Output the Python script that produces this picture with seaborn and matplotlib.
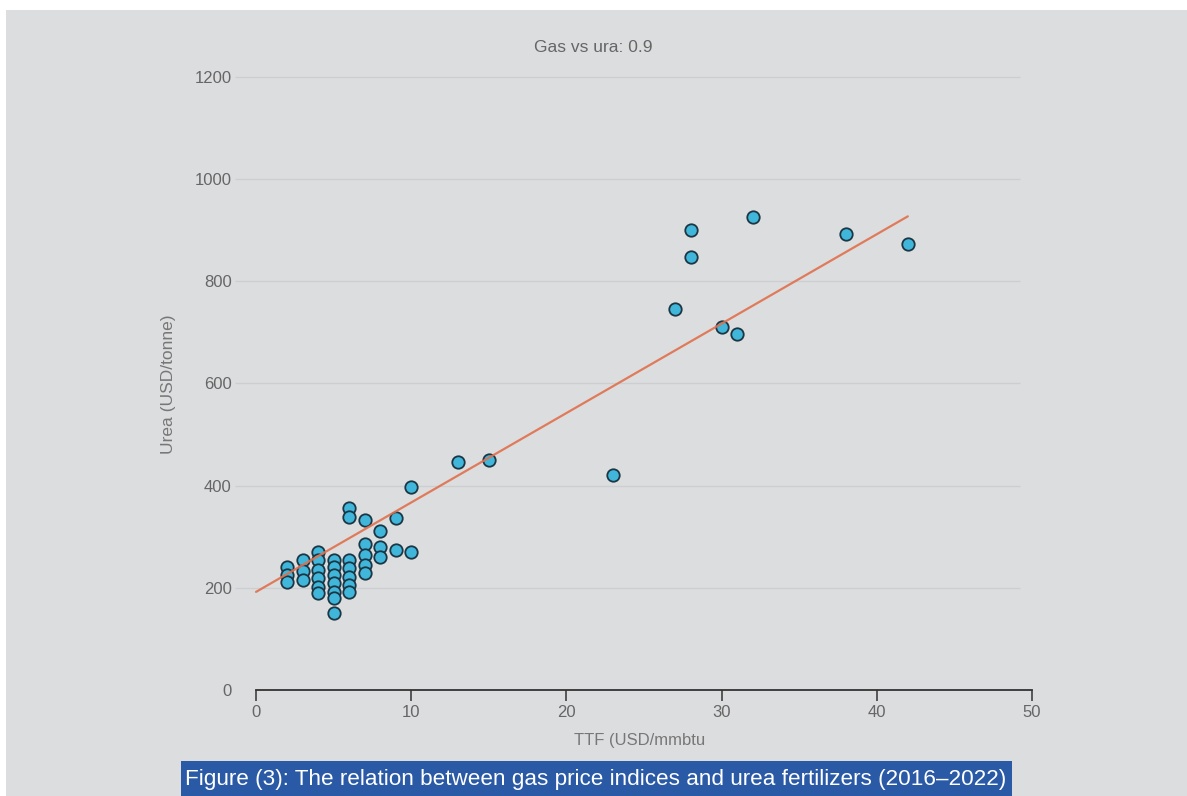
import matplotlib
matplotlib.use("Agg")
import matplotlib.pyplot as plt
from matplotlib import font_manager
from matplotlib.patches import Rectangle
import numpy as np
import pandas as pd
import seaborn as sns

# Monthly observations: TTF gas price (USD/mmbtu) against urea price (USD/tonne)
ttf = [2, 2, 2,
       3, 3, 3,
       4, 4, 4, 4, 4, 4,
       5, 5, 5, 5, 5, 5, 5,
       6, 6, 6, 6, 6, 6, 6,
       7, 7, 7, 7, 7,
       8, 8, 8,
       9, 9,
       10, 10,
       13, 15, 23, 27, 28, 28, 30, 31, 32, 38, 42]
urea = [241, 225, 211,
        254, 232, 215,
        271, 254, 235, 219, 202, 190,
        254, 241, 225, 209, 192, 180, 150,
        356, 339, 254, 238, 222, 205, 191,
        333, 286, 264, 245, 229,
        311, 280, 260,
        337, 274,
        397, 270,
        446, 450, 421, 746, 847, 900, 710, 697, 926, 892, 873]

# Fitted trend line (urea = intercept + slope * ttf)
fit_intercept = 192
fit_slope = 17.5

x_ticks = [0, 10, 20, 30, 40, 50]
y_ticks = [0, 200, 400, 600, 800, 1000, 1200]

title_text = "Gas vs ura: 0.9"
x_label = "TTF (USD/mmbtu"
y_label = "Urea (USD/tonne)"
caption = "Figure (3): The relation between gas price indices and urea fertilizers (2016\u20132022)"

df = pd.DataFrame({"ttf": ttf, "urea": urea})

sns.set_style("white")
plt.rcParams["font.family"] = ["Liberation Sans", "DejaVu Sans"]

W, H = 1187, 796
fig = plt.figure(figsize=(W / 100, H / 100), dpi=100, facecolor="white")

bg = "#dcdddf"
fig.add_artist(Rectangle((6 / W, 0), 1 - 6 / W, 1 - 10 / H,
                         transform=fig.transFigure, facecolor=bg,
                         edgecolor="none", zorder=-10))

xlim = (-1.4, 50.3)
ylim = (-40, 1230)
ax = fig.add_axes([0.1974, 0.1075, 0.6759, 0.8152])
ax.set_facecolor("none")

# horizontal guide lines
ax.hlines(y_ticks[1:], -1.35, 49.2, color="#cdced1", linewidth=1.0, zorder=1)

sns.scatterplot(data=df, x="ttf", y="urea", ax=ax, s=80,
                color="#3fb6da", edgecolor="#1c3644", linewidth=1.3,
                zorder=3, legend=False)

line_x = np.array([0, max(ttf)])
line_df = pd.DataFrame({"ttf": line_x, "urea": fit_intercept + fit_slope * line_x})
sns.lineplot(data=line_df, x="ttf", y="urea", ax=ax, color="#e0704c",
             linewidth=1.6, zorder=4, alpha=0.9)

ax.set_xlim(*xlim)
ax.set_ylim(*ylim)

for side in ["top", "right", "left"]:
    ax.spines[side].set_visible(False)
ax.spines["bottom"].set_position(("data", 0))
ax.spines["bottom"].set_bounds(0, 50)
ax.spines["bottom"].set_color("#333333")
ax.spines["bottom"].set_linewidth(1.3)

ax.set_xticks(x_ticks)
ax.set_yticks(y_ticks)
ax.tick_params(axis="x", bottom=True, direction="out", length=8, width=1.1,
               color="#333333", labelcolor="#666666", labelsize=12, pad=3)
ax.tick_params(axis="y", left=False, length=0, labelcolor="#666666",
               labelsize=12, pad=2)

ax.set_xlabel("")
ax.set_ylabel("")
fig.text(640 / W, 1 - 741 / H, x_label, ha="center", va="center",
         color="#777777", fontsize=12)
fig.text(169 / W, 1 - 384 / H, y_label, ha="center", va="center",
         rotation=90, color="#777777", fontsize=12.5)
fig.text(593 / W, 1 - 48 / H, title_text, ha="center", va="center",
         color="#666666", fontsize=12.5)

# caption banner
fig.add_artist(Rectangle((181 / W, 0), 831 / W, 35 / H,
                         transform=fig.transFigure, facecolor="#2a5aa6",
                         edgecolor="none", zorder=-5))
names = {f.name for f in font_manager.fontManager.ttflist}
cap_font = "Liberation Sans Narrow" if "Liberation Sans Narrow" in names else "Liberation Sans"
fig.text(596 / W, 1 - 779 / H, caption, ha="center", va="center",
         color="white", fontsize=16.2, family=[cap_font, "DejaVu Sans"], zorder=2)

fig.savefig("out.png", dpi=100, facecolor=fig.get_facecolor())
